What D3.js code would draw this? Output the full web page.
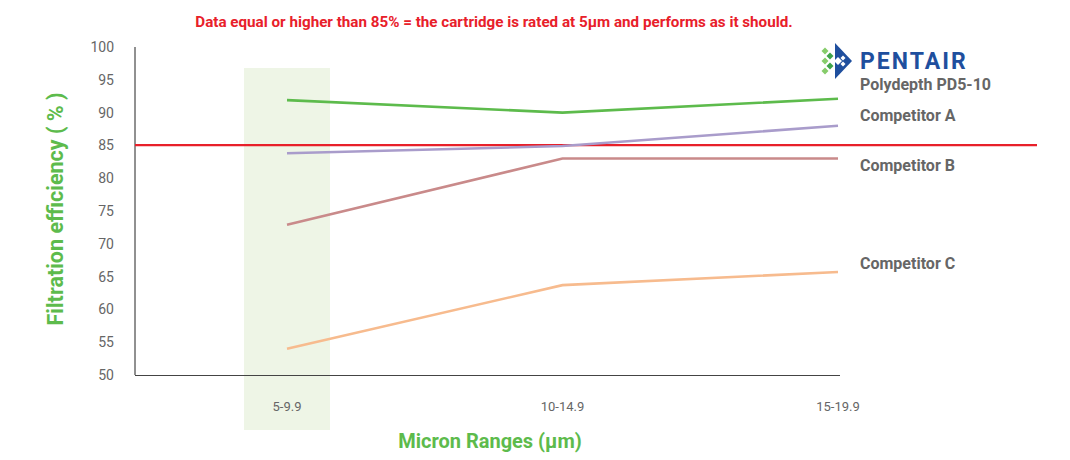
<!DOCTYPE html>
<html><head><meta charset="utf-8">
<script src="https://cdn.jsdelivr.net/npm/d3@7"></script>
<style>
body{margin:0;background:#fff;}
text{font-family:"Liberation Sans Narrow","Roboto","Liberation Sans",sans-serif;}
</style></head>
<body><svg id="c" width="1070" height="460"></svg>
<script>
const categories = ["5-9.9","10-14.9","15-19.9"];
const seriesNames = ["Polydepth PD5-10","Competitor A","Competitor B","Competitor C"];
const pentair = [91.9, 90.0, 92.1];
const competitorA = [83.8, 84.9, 88.0];
const competitorB = [72.9, 83.0, 83.0];
const competitorC = [54.0, 63.7, 65.7];
const yTicks = [50,55,60,65,70,75,80,85,90,95,100];
const threshold = 85;
const colors = ["#5dbb4c","#a99ccb","#c98a8a","#f7bb8e"];
const labelY = [85,116,166,264];

const svg = d3.select("#c");
const x = d3.scalePoint().domain(categories).range([287,838]);
const y = d3.scaleLinear().domain([50,100]).range([375,47]);

// shaded band
svg.append("rect").attr("x",244).attr("y",68).attr("width",86).attr("height",362).attr("fill","#eef5e6");

// axes
svg.append("line").attr("x1",135).attr("x2",135).attr("y1",47).attr("y2",375).attr("stroke","#222").attr("stroke-width",1);
svg.append("line").attr("x1",135).attr("x2",840).attr("y1",375.5).attr("y2",375.5).attr("stroke","#444").attr("stroke-width",1.2);

svg.selectAll(".yt").data(yTicks).enter().append("text")
  .attr("x",114).attr("y",d=>y(d)+5).attr("text-anchor","end")
  .attr("font-size",14).attr("fill","#666").text(d=>d);
svg.selectAll(".xt").data(categories).enter().append("text")
  .attr("x",d=>x(d)).attr("y",411).attr("text-anchor","middle")
  .attr("font-size",13).attr("fill","#666").text(d=>d);

// threshold line
svg.append("line").attr("x1",135).attr("x2",1037).attr("y1",y(threshold)-0.3).attr("y2",y(threshold)-0.3)
  .attr("stroke","#e8202a").attr("stroke-width",2.2);

// series
const all = [pentair,competitorA,competitorB,competitorC];
const line = d3.line().x((d,i)=>x(categories[i])).y(d=>y(d));
[3,2,1,0].forEach(k=>{
  svg.append("path").attr("d",line(all[k])).attr("fill","none")
    .attr("stroke",colors[k]).attr("stroke-width",2.6);
});

svg.selectAll(".lab").data(seriesNames).enter().append("text")
  .attr("x",860).attr("y",(d,i)=>labelY[i]+5).attr("font-size",16).attr("font-weight","bold")
  .attr("fill","#666").attr("font-family","Roboto, sans-serif").text(d=>d);

// Pentair logo
const lg = svg.append("g");
lg.append("text").attr("x",860).attr("y",69).attr("font-size",23).attr("font-weight","bold")
  .attr("fill","#1f4f9e").attr("font-family","Roboto, sans-serif").attr("letter-spacing",2).text("PENTAIR");
lg.append("path").attr("d","M835,43 L852,61 L835,79 Z").attr("fill","#1f4f9e");
// white notches in blue triangle
lg.append("path").attr("d","M838,57 L842,61 L838,65 L834,61 Z").attr("fill","#fff");
lg.append("path").attr("d","M843,55.5 L845.5,58 L843,60.5 L840.5,58 Z").attr("fill","#fff");
lg.append("path").attr("d","M843,61.5 L845.5,64 L843,66.5 L840.5,64 Z").attr("fill","#fff");
// green diamonds
[[830,56],[830,66],[825,61],[825,51],[825,71]].forEach(([cx,cy],i)=>{
  lg.append("path").attr("d",`M${cx},${cy-3.5} L${cx+3.5},${cy} L${cx},${cy+3.5} L${cx-3.5},${cy} Z`)
    .attr("fill", i<2?"#3fa34a":"#86cc6a");
});

// titles
svg.append("text").attr("x",494).attr("y",27).attr("text-anchor","middle").attr("font-size",15.2)
  .attr("font-weight","bold").attr("fill","#e8202a").attr("font-family","Roboto, sans-serif")
  .text("Data equal or higher than 85% = the cartridge is rated at 5µm and performs as it should.");
svg.append("text").attr("transform","translate(63,209) rotate(-90)").attr("text-anchor","middle")
  .attr("font-size",21.5).attr("font-weight","bold").attr("fill","#5dbb4c").attr("font-family","Roboto, sans-serif")
  .text("Filtration efficiency ( % )");
svg.append("text").attr("x",490).attr("y",448).attr("text-anchor","middle")
  .attr("font-size",20).attr("font-weight","bold").attr("fill","#5dbb4c")
  .text("Micron Ranges (µm)");
</script></body></html>
